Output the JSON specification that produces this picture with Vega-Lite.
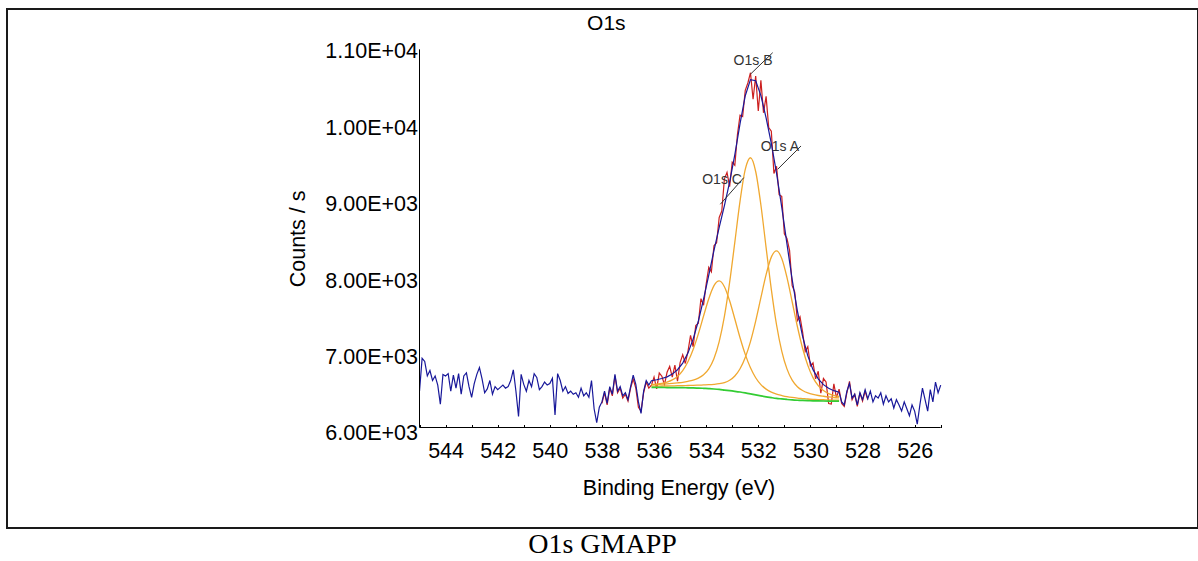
{
  "$schema": "https://vega.github.io/schema/vega-lite/v6.json",
  "background": "white",
  "padding": {"left": 6, "top": 8, "right": 0, "bottom": 0},
  "spacing": 0,
  "config": {"view": {"stroke": null}, "font": "Liberation Sans"},
  "datasets": {
    "blue": [
      {"be": 545.0, "cps": 6560}, {"be": 544.9, "cps": 6990}, {"be": 544.8, "cps": 6950}, {"be": 544.7, "cps": 6760}, {"be": 544.6, "cps": 6830},
      {"be": 544.5, "cps": 6700}, {"be": 544.4, "cps": 6760}, {"be": 544.3, "cps": 6640}, {"be": 544.2, "cps": 6390}, {"be": 544.1, "cps": 6780},
      {"be": 544.0, "cps": 6760}, {"be": 543.9, "cps": 6790}, {"be": 543.8, "cps": 6560}, {"be": 543.7, "cps": 6770}, {"be": 543.6, "cps": 6600},
      {"be": 543.5, "cps": 6790}, {"be": 543.4, "cps": 6520}, {"be": 543.3, "cps": 6760}, {"be": 543.2, "cps": 6800}, {"be": 543.1, "cps": 6620},
      {"be": 543.0, "cps": 6480}, {"be": 542.9, "cps": 6660}, {"be": 542.8, "cps": 6780}, {"be": 542.7, "cps": 6870}, {"be": 542.6, "cps": 6720},
      {"be": 542.5, "cps": 6540}, {"be": 542.4, "cps": 6590}, {"be": 542.3, "cps": 6700}, {"be": 542.2, "cps": 6520}, {"be": 542.1, "cps": 6620},
      {"be": 542.0, "cps": 6580}, {"be": 541.9, "cps": 6610}, {"be": 541.8, "cps": 6640}, {"be": 541.7, "cps": 6600}, {"be": 541.6, "cps": 6620},
      {"be": 541.5, "cps": 6700}, {"be": 541.4, "cps": 6840}, {"be": 541.3, "cps": 6560}, {"be": 541.2, "cps": 6230}, {"be": 541.1, "cps": 6780},
      {"be": 541.0, "cps": 6650}, {"be": 540.9, "cps": 6560}, {"be": 540.8, "cps": 6700}, {"be": 540.7, "cps": 6620}, {"be": 540.6, "cps": 6790},
      {"be": 540.5, "cps": 6740}, {"be": 540.4, "cps": 6580}, {"be": 540.3, "cps": 6620}, {"be": 540.2, "cps": 6680}, {"be": 540.1, "cps": 6640},
      {"be": 540.0, "cps": 6660}, {"be": 539.9, "cps": 6730}, {"be": 539.8, "cps": 6250}, {"be": 539.7, "cps": 6790}, {"be": 539.6, "cps": 6700},
      {"be": 539.5, "cps": 6560}, {"be": 539.4, "cps": 6620}, {"be": 539.3, "cps": 6530}, {"be": 539.2, "cps": 6560}, {"be": 539.1, "cps": 6520},
      {"be": 539.0, "cps": 6540}, {"be": 538.9, "cps": 6480}, {"be": 538.8, "cps": 6600}, {"be": 538.7, "cps": 6500}, {"be": 538.6, "cps": 6540},
      {"be": 538.5, "cps": 6480}, {"be": 538.4, "cps": 6700}, {"be": 538.3, "cps": 6330}, {"be": 538.2, "cps": 6150}, {"be": 538.1, "cps": 6350},
      {"be": 538.0, "cps": 6420}, {"be": 537.9, "cps": 6560}, {"be": 537.8, "cps": 6400}, {"be": 537.7, "cps": 6620}, {"be": 537.6, "cps": 6520},
      {"be": 537.5, "cps": 6780}, {"be": 537.4, "cps": 6560}, {"be": 537.3, "cps": 6620}, {"be": 537.2, "cps": 6500}, {"be": 537.1, "cps": 6540},
      {"be": 537.0, "cps": 6450}, {"be": 536.9, "cps": 6620}, {"be": 536.8, "cps": 6770}, {"be": 536.7, "cps": 6650}, {"be": 536.6, "cps": 6420},
      {"be": 536.5, "cps": 6270}, {"be": 536.4, "cps": 6560}, {"be": 536.3, "cps": 6700}, {"be": 536.2, "cps": 6640},
      {"be": 536.1, "cps": 6698}, {"be": 535.9, "cps": 6710}, {"be": 535.7, "cps": 6726}, {"be": 535.5, "cps": 6748}, {"be": 535.3, "cps": 6784},
      {"be": 535.1, "cps": 6841}, {"be": 534.9, "cps": 6928}, {"be": 534.7, "cps": 7059}, {"be": 534.5, "cps": 7242}, {"be": 534.3, "cps": 7479},
      {"be": 534.1, "cps": 7765}, {"be": 533.9, "cps": 8081}, {"be": 533.7, "cps": 8403}, {"be": 533.5, "cps": 8705}, {"be": 533.3, "cps": 8990},
      {"be": 533.1, "cps": 9297}, {"be": 532.9, "cps": 9658}, {"be": 532.7, "cps": 10062}, {"be": 532.5, "cps": 10428}, {"be": 532.3, "cps": 10639},
      {"be": 532.1, "cps": 10625}, {"be": 531.9, "cps": 10429}, {"be": 531.7, "cps": 10139}, {"be": 531.5, "cps": 9804}, {"be": 531.3, "cps": 9415},
      {"be": 531.1, "cps": 8970}, {"be": 530.9, "cps": 8488}, {"be": 530.7, "cps": 8022}, {"be": 530.5, "cps": 7612}, {"be": 530.3, "cps": 7277},
      {"be": 530.1, "cps": 7022}, {"be": 529.9, "cps": 6842}, {"be": 529.7, "cps": 6722}, {"be": 529.5, "cps": 6646}, {"be": 529.3, "cps": 6598},
      {"be": 529.1, "cps": 6567}, {"be": 528.9, "cps": 6546},
      {"be": 528.8, "cps": 6420}, {"be": 528.7, "cps": 6380}, {"be": 528.6, "cps": 6560}, {"be": 528.5, "cps": 6660}, {"be": 528.4, "cps": 6470},
      {"be": 528.3, "cps": 6520}, {"be": 528.2, "cps": 6380}, {"be": 528.1, "cps": 6540}, {"be": 528.0, "cps": 6450}, {"be": 527.9, "cps": 6580},
      {"be": 527.8, "cps": 6460}, {"be": 527.7, "cps": 6560}, {"be": 527.6, "cps": 6420}, {"be": 527.5, "cps": 6500}, {"be": 527.4, "cps": 6470},
      {"be": 527.3, "cps": 6540}, {"be": 527.2, "cps": 6390}, {"be": 527.1, "cps": 6500}, {"be": 527.0, "cps": 6420}, {"be": 526.9, "cps": 6460},
      {"be": 526.8, "cps": 6340}, {"be": 526.7, "cps": 6450}, {"be": 526.6, "cps": 6380}, {"be": 526.5, "cps": 6300}, {"be": 526.4, "cps": 6420},
      {"be": 526.3, "cps": 6330}, {"be": 526.2, "cps": 6240}, {"be": 526.1, "cps": 6380}, {"be": 526.0, "cps": 6300}, {"be": 525.9, "cps": 6130},
      {"be": 525.8, "cps": 6380}, {"be": 525.7, "cps": 6600}, {"be": 525.6, "cps": 6450}, {"be": 525.5, "cps": 6300}, {"be": 525.4, "cps": 6580},
      {"be": 525.3, "cps": 6420}, {"be": 525.2, "cps": 6680}, {"be": 525.1, "cps": 6540}, {"be": 525.0, "cps": 6640}
    ],
    "red": [
      {"be": 538.0, "cps": 6400}, {"be": 537.9, "cps": 6540}, {"be": 537.8, "cps": 6380}, {"be": 537.7, "cps": 6600}, {"be": 537.6, "cps": 6500},
      {"be": 537.5, "cps": 6760}, {"be": 537.4, "cps": 6540}, {"be": 537.3, "cps": 6600}, {"be": 537.2, "cps": 6470}, {"be": 537.1, "cps": 6520},
      {"be": 537.0, "cps": 6430}, {"be": 536.9, "cps": 6600}, {"be": 536.8, "cps": 6720}, {"be": 536.7, "cps": 6600}, {"be": 536.6, "cps": 6350},
      {"be": 536.5, "cps": 6300}, {"be": 536.4, "cps": 6540}, {"be": 536.3, "cps": 6680}, {"be": 536.2, "cps": 6600},
      {"be": 536.1, "cps": 6638}, {"be": 536.0, "cps": 6744}, {"be": 535.9, "cps": 6590}, {"be": 535.8, "cps": 6798}, {"be": 535.7, "cps": 6756},
      {"be": 535.6, "cps": 6647}, {"be": 535.5, "cps": 6808}, {"be": 535.4, "cps": 6886}, {"be": 535.3, "cps": 6744}, {"be": 535.2, "cps": 6902},
      {"be": 535.1, "cps": 6691}, {"be": 535.0, "cps": 6934}, {"be": 534.9, "cps": 7038}, {"be": 534.8, "cps": 6923}, {"be": 534.7, "cps": 7079},
      {"be": 534.6, "cps": 7290}, {"be": 534.5, "cps": 7142}, {"be": 534.4, "cps": 7420}, {"be": 534.3, "cps": 7449}, {"be": 534.2, "cps": 7772},
      {"be": 534.1, "cps": 7685}, {"be": 534.0, "cps": 7963}, {"be": 533.9, "cps": 8181}, {"be": 533.8, "cps": 8122}, {"be": 533.7, "cps": 8463},
      {"be": 533.6, "cps": 8504}, {"be": 533.5, "cps": 8835}, {"be": 533.4, "cps": 8918}, {"be": 533.3, "cps": 9340}, {"be": 533.2, "cps": 9423},
      {"be": 533.1, "cps": 9237}, {"be": 533.0, "cps": 9557}, {"be": 532.9, "cps": 9518}, {"be": 532.8, "cps": 9920}, {"be": 532.7, "cps": 10172},
      {"be": 532.6, "cps": 10155}, {"be": 532.5, "cps": 10498}, {"be": 532.4, "cps": 10594}, {"be": 532.3, "cps": 10729}, {"be": 532.2, "cps": 10382},
      {"be": 532.1, "cps": 10685}, {"be": 532.0, "cps": 10227}, {"be": 531.9, "cps": 10629}, {"be": 531.8, "cps": 10204}, {"be": 531.7, "cps": 10419},
      {"be": 531.6, "cps": 10012}, {"be": 531.5, "cps": 9964}, {"be": 531.4, "cps": 9410}, {"be": 531.3, "cps": 9505}, {"be": 531.2, "cps": 9133},
      {"be": 531.1, "cps": 9110}, {"be": 531.0, "cps": 8619}, {"be": 530.9, "cps": 8558}, {"be": 530.8, "cps": 8405}, {"be": 530.7, "cps": 7942},
      {"be": 530.6, "cps": 7857}, {"be": 530.5, "cps": 7482}, {"be": 530.4, "cps": 7535}, {"be": 530.3, "cps": 7337}, {"be": 530.2, "cps": 7080},
      {"be": 530.1, "cps": 7142}, {"be": 530.0, "cps": 6892}, {"be": 529.9, "cps": 6932}, {"be": 529.8, "cps": 6722}, {"be": 529.7, "cps": 6822},
      {"be": 529.6, "cps": 6534}, {"be": 529.5, "cps": 6726}, {"be": 529.4, "cps": 6682}, {"be": 529.3, "cps": 6398}, {"be": 529.2, "cps": 6393},
      {"be": 529.1, "cps": 6657}, {"be": 529.0, "cps": 6477}, {"be": 528.9, "cps": 6586},
      {"be": 528.8, "cps": 6400}, {"be": 528.7, "cps": 6360}, {"be": 528.6, "cps": 6540}, {"be": 528.5, "cps": 6690}, {"be": 528.4, "cps": 6450},
      {"be": 528.3, "cps": 6520}, {"be": 528.2, "cps": 6360}, {"be": 528.1, "cps": 6540}, {"be": 528.0, "cps": 6430}, {"be": 527.9, "cps": 6560},
      {"be": 527.8, "cps": 6450}
    ],
    "fit": [
      {"be": 528.9, "bg": 6430, "A": 6491, "B": 6473, "C": 6442},
      {"be": 529.1, "bg": 6430, "A": 6505, "B": 6478, "C": 6444},
      {"be": 529.3, "bg": 6431, "A": 6529, "B": 6485, "C": 6446},
      {"be": 529.5, "bg": 6432, "A": 6568, "B": 6494, "C": 6448},
      {"be": 529.7, "bg": 6433, "A": 6633, "B": 6504, "C": 6451},
      {"be": 529.9, "bg": 6434, "A": 6738, "B": 6518, "C": 6454},
      {"be": 530.1, "bg": 6436, "A": 6898, "B": 6538, "C": 6458},
      {"be": 530.3, "bg": 6439, "A": 7122, "B": 6569, "C": 6464},
      {"be": 530.5, "bg": 6442, "A": 7407, "B": 6619, "C": 6470},
      {"be": 530.7, "bg": 6446, "A": 7731, "B": 6705, "C": 6478},
      {"be": 530.9, "bg": 6452, "A": 8051, "B": 6852, "C": 6489},
      {"be": 531.1, "bg": 6459, "A": 8298, "B": 7086, "C": 6504},
      {"be": 531.3, "bg": 6466, "A": 8396, "B": 7430, "C": 6521},
      {"be": 531.5, "bg": 6476, "A": 8315, "B": 7893, "C": 6548},
      {"be": 531.7, "bg": 6487, "A": 8086, "B": 8440, "C": 6587},
      {"be": 531.9, "bg": 6499, "A": 7784, "B": 8997, "C": 6646},
      {"be": 532.1, "bg": 6512, "A": 7477, "B": 9436, "C": 6736},
      {"be": 532.3, "bg": 6526, "A": 7209, "B": 9616, "C": 6866},
      {"be": 532.5, "bg": 6539, "A": 7001, "B": 9463, "C": 7042},
      {"be": 532.7, "bg": 6550, "A": 6854, "B": 9048, "C": 7260},
      {"be": 532.9, "bg": 6559, "A": 6759, "B": 8512, "C": 7505},
      {"be": 533.1, "bg": 6567, "A": 6703, "B": 7984, "C": 7744},
      {"be": 533.3, "bg": 6575, "A": 6673, "B": 7539, "C": 7928},
      {"be": 533.5, "bg": 6583, "A": 6658, "B": 7210, "C": 8003},
      {"be": 533.7, "bg": 6589, "A": 6650, "B": 6989, "C": 7942},
      {"be": 533.9, "bg": 6594, "A": 6645, "B": 6853, "C": 7771},
      {"be": 534.1, "bg": 6598, "A": 6642, "B": 6775, "C": 7544},
      {"be": 534.3, "bg": 6601, "A": 6639, "B": 6731, "C": 7311},
      {"be": 534.5, "bg": 6603, "A": 6637, "B": 6705, "C": 7106},
      {"be": 534.7, "bg": 6605, "A": 6635, "B": 6689, "C": 6945},
      {"be": 534.9, "bg": 6606, "A": 6633, "B": 6677, "C": 6830},
      {"be": 535.1, "bg": 6607, "A": 6632, "B": 6669, "C": 6754},
      {"be": 535.3, "bg": 6608, "A": 6630, "B": 6662, "C": 6708},
      {"be": 535.5, "bg": 6608, "A": 6628, "B": 6656, "C": 6680},
      {"be": 535.7, "bg": 6609, "A": 6628, "B": 6652, "C": 6664},
      {"be": 535.9, "bg": 6609, "A": 6626, "B": 6648, "C": 6654},
      {"be": 536.1, "bg": 6610, "A": 6626, "B": 6645, "C": 6647}
    ],
    "notes": [
      {"label": "O1s A", "tx": 531.17, "ty": 9757, "lx": 531.255, "ly": 9465, "ex": 530.36, "ey": 9770},
      {"label": "O1s B", "tx": 532.2, "ty": 10882, "lx": 532.306, "ly": 10708, "ex": 531.447, "ey": 10991},
      {"label": "O1s C", "tx": 533.39, "ty": 9331, "lx": 533.457, "ly": 9007, "ex": 532.559, "ey": 9355}
    ]
  },
  "vconcat": [
    {
      "width": 1191,
      "height": 519,
      "view": {"stroke": "#1a1a1a", "strokeWidth": 2},
      "layer": [
        {
          "data": {"name": "red"},
          "mark": {"type": "line", "color": "#cc2020", "strokeWidth": 1.2},
          "encoding": {
            "x": {
              "field": "be", "type": "quantitative",
              "scale": {"domain": [515.127, 560.829], "reverse": true, "nice": false, "zero": false},
              "axis": {
                "title": "Binding Energy (eV)",
                "values": [525, 526, 527, 528, 529, 530, 531, 532, 533, 534, 535, 536, 537, 538, 539, 540, 541, 542, 543, 544, 545],
                "labelExpr": "datum.value % 2 === 0 ? datum.label : ''",
                "offset": -100.5,
                "domain": false, "grid": false,
                "tickSize": -3, "tickColor": "#000", "tickWidth": 1,
                "labelPadding": 15.5, "labelFlush": false, "labelOverlap": false,
                "labelFont": "Liberation Sans", "labelFontSize": 21.5, "labelColor": "#000",
                "titleFont": "Liberation Sans", "titleFontSize": 21.5, "titleFontWeight": "normal", "titleColor": "#000",
                "titleX": 671.5, "titlePadding": 16
              }
            },
            "y": {
              "field": "cps", "type": "quantitative",
              "scale": {"domain": [4769.6, 11562.8], "nice": false, "zero": false},
              "axis": {
                "title": "Counts / s",
                "values": [6000, 7000, 8000, 9000, 10000, 11000],
                "labelExpr": "datum.value >= 10000 ? format(datum.value / 10000, '.2f') + 'E+04' : format(datum.value / 1000, '.2f') + 'E+03'",
                "offset": -412.5,
                "domain": false, "grid": false, "ticks": false,
                "labelPadding": 2, "labelOverlap": false,
                "labelFont": "Liberation Sans", "labelFontSize": 21.5, "labelColor": "#000",
                "titleFont": "Liberation Sans", "titleFontSize": 21.5, "titleFontWeight": "normal", "titleColor": "#000",
                "titleY": 229.4, "titlePadding": 15
              }
            }
          }
        },
        {
          "data": {"name": "blue"},
          "mark": {"type": "line", "color": "#18189a", "strokeWidth": 1.2},
          "encoding": {
            "x": {"field": "be", "type": "quantitative"},
            "y": {"field": "cps", "type": "quantitative"}
          }
        },
        {
          "data": {"name": "fit"},
          "transform": [{"fold": ["A", "B", "C"], "as": ["comp", "cps"]}],
          "mark": {"type": "line", "color": "#f0a830", "strokeWidth": 1.3, "interpolate": "monotone"},
          "encoding": {
            "x": {"field": "be", "type": "quantitative"},
            "y": {"field": "cps", "type": "quantitative"},
            "detail": {"field": "comp"}
          }
        },
        {
          "data": {"name": "fit"},
          "mark": {"type": "line", "color": "#33cc33", "strokeWidth": 1.7, "interpolate": "monotone"},
          "encoding": {
            "x": {"field": "be", "type": "quantitative"},
            "y": {"field": "bg", "type": "quantitative"}
          }
        },
        {
          "data": {"values": [{}]},
          "mark": {"type": "rule", "color": "#000", "strokeWidth": 1},
          "encoding": {"x": {"datum": 545}, "y": {"datum": 6085}, "y2": {"datum": 11035}}
        },
        {
          "data": {"values": [{}]},
          "mark": {"type": "rule", "color": "#000", "strokeWidth": 1},
          "encoding": {"x": {"datum": 545}, "x2": {"datum": 525}, "y": {"datum": 6085}}
        },
        {
          "data": {"name": "notes"},
          "mark": {"type": "rule", "color": "#333", "strokeWidth": 1},
          "encoding": {
            "x": {"field": "lx", "type": "quantitative"},
            "x2": {"field": "ex"},
            "y": {"field": "ly", "type": "quantitative"},
            "y2": {"field": "ey"}
          }
        },
        {
          "data": {"name": "notes"},
          "mark": {"type": "text", "font": "Liberation Sans", "fontSize": 14, "color": "#333"},
          "encoding": {
            "x": {"field": "tx", "type": "quantitative"},
            "y": {"field": "ty", "type": "quantitative"},
            "text": {"field": "label"}
          }
        },
        {
          "data": {"values": [{"t": "O1s"}]},
          "mark": {"type": "text", "font": "Liberation Sans", "fontSize": 21, "color": "#000"},
          "encoding": {"x": {"datum": 537.83}, "y": {"datum": 11366}, "text": {"field": "t"}}
        }
      ]
    },
    {
      "width": 1191,
      "height": 34,
      "data": {"values": [{"caption": "O1s GMAPP"}]},
      "mark": {"type": "text", "font": "Liberation Serif", "fontSize": 28, "color": "#000", "dy": -1},
      "encoding": {"text": {"field": "caption"}}
    }
  ]
}
